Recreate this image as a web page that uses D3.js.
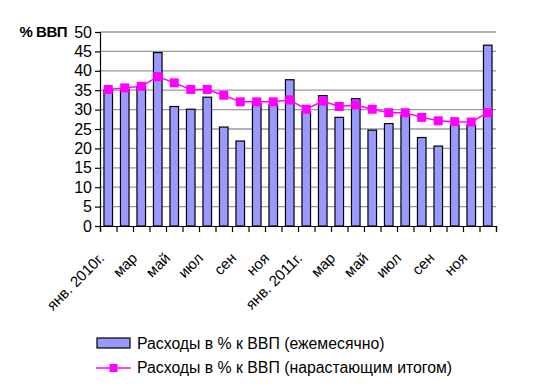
<!DOCTYPE html>
<html><head><meta charset="utf-8">
<script src="https://cdn.jsdelivr.net/npm/d3@7"></script>
<style>body{margin:0;background:#fff;} text{font-family:"Liberation Sans",Arial,sans-serif;}</style>
</head><body><svg id="c" width="559" height="388"></svg>
<script>
const categories = ["янв. 2010г.","фев","мар","апр","май","июн","июл","авг","сен","окт","ноя","дек",
  "янв. 2011г.","фев","мар","апр","май","июн","июл","авг","сен","окт","ноя","дек"];
const tickLabels = ["янв. 2010г.","","мар","","май","","июл","","сен","","ноя","",
  "янв. 2011г.","","мар","","май","","июл","","сен","","ноя",""];
const monthly = [35.0,35.2,36.0,44.7,30.8,30.1,33.2,25.5,21.9,31.6,31.2,37.7,
  29.5,33.6,28.0,32.8,24.7,26.4,28.6,22.8,20.6,26.0,26.0,46.6];
const cumulative = [35.2,35.6,36.0,38.5,36.9,35.2,35.2,33.7,32.0,32.0,32.0,32.5,
  30.1,32.2,30.8,31.2,30.1,29.2,29.2,28.0,27.1,26.9,26.8,29.2];
const yTicks = [0,5,10,15,20,25,30,35,40,45,50];
const seriesNames = ["Расходы в % к ВВП (ежемесячно)","Расходы в % к ВВП (нарастающим итогом)"];

const svg = d3.select("#c");
const L=100,R=496,T=32,B=226;
const x = d3.scaleBand().domain(d3.range(categories.length)).range([L,R]).paddingInner(0.48).paddingOuter(0.24);
const y = d3.scaleLinear().domain([0,50]).range([B,T]);
const xc = i => x(i)+x.bandwidth()/2;

// gridlines
svg.append("g").selectAll("line").data(yTicks.filter(d=>d>0)).join("line")
  .attr("x1",L).attr("x2",R).attr("y1",d=>y(d)).attr("y2",d=>y(d))
  .attr("stroke","#9a9a9a").attr("stroke-width",1.3);

// bars
svg.append("g").selectAll("rect").data(monthly).join("rect")
  .attr("x",(d,i)=>x(i)).attr("width",x.bandwidth())
  .attr("y",d=>y(d)).attr("height",d=>B-y(d))
  .attr("fill","#9999ff").attr("stroke","#000").attr("stroke-width",1.2);

// y axis
const ya = svg.append("g").attr("transform",`translate(${L},0)`)
  .call(d3.axisLeft(y).tickValues(yTicks).tickSize(5).tickPadding(3));
ya.select(".domain").attr("stroke","#000").attr("stroke-width",1.2);
ya.selectAll(".tick line").attr("stroke","#000").attr("stroke-width",1.2);
ya.selectAll(".tick text").attr("font-size",16).attr("fill","#000").style("font-family","'Liberation Sans',Arial,sans-serif");

// x axis
const xs = d3.scaleLinear().domain([0,categories.length]).range([L,R]);
const xa = svg.append("g").attr("transform",`translate(0,${B})`)
  .call(d3.axisBottom(xs).tickValues(d3.range(categories.length+1)).tickSize(6).tickFormat(""));
xa.select(".domain").attr("stroke","#000").attr("stroke-width",1.2);
xa.selectAll(".tick line").attr("stroke","#000").attr("stroke-width",1.2);

const labelData = tickLabels.map((t,i)=>({t,i})).filter(d=>d.t!=="");
svg.append("g").selectAll("text").data(labelData).join("text")
  .attr("transform",d=>`translate(${xc(d.i)-3},${B+33}) rotate(-45)`)
  .attr("text-anchor","end").attr("font-size",15).attr("fill","#000")
  .text(d=>d.t);

// line
const line = d3.line().x((d,i)=>xc(i)).y(d=>y(d));
svg.append("path").datum(cumulative).attr("d",line).attr("fill","none")
  .attr("stroke","#ff00ff").attr("stroke-width",1.5);
svg.append("g").selectAll("rect").data(cumulative).join("rect")
  .attr("x",(d,i)=>xc(i)-4.5).attr("y",d=>y(d)-4.5).attr("width",9).attr("height",9)
  .attr("fill","#ff00ff");

// y title
svg.append("text").attr("x",67).attr("y",37).attr("text-anchor","end")
  .attr("font-size",15).attr("font-weight","bold").attr("letter-spacing","-0.5").text("% ВВП");

// legend
const lg = svg.append("g");
lg.append("rect").attr("x",97).attr("y",338).attr("width",33).attr("height",10)
  .attr("fill","#9999ff").attr("stroke","#000").attr("stroke-width",1.2);
lg.append("text").attr("x",137).attr("y",349).attr("font-size",15.8).text(seriesNames[0]);
lg.append("line").attr("x1",96).attr("x2",131).attr("y1",368).attr("y2",368)
  .attr("stroke","#ff00ff").attr("stroke-width",1.5);
lg.append("rect").attr("x",109.5).attr("y",364).attr("width",8).attr("height",8).attr("fill","#ff00ff");
lg.append("text").attr("x",137).attr("y",373).attr("font-size",15.8).text(seriesNames[1]);
</script></body></html>
